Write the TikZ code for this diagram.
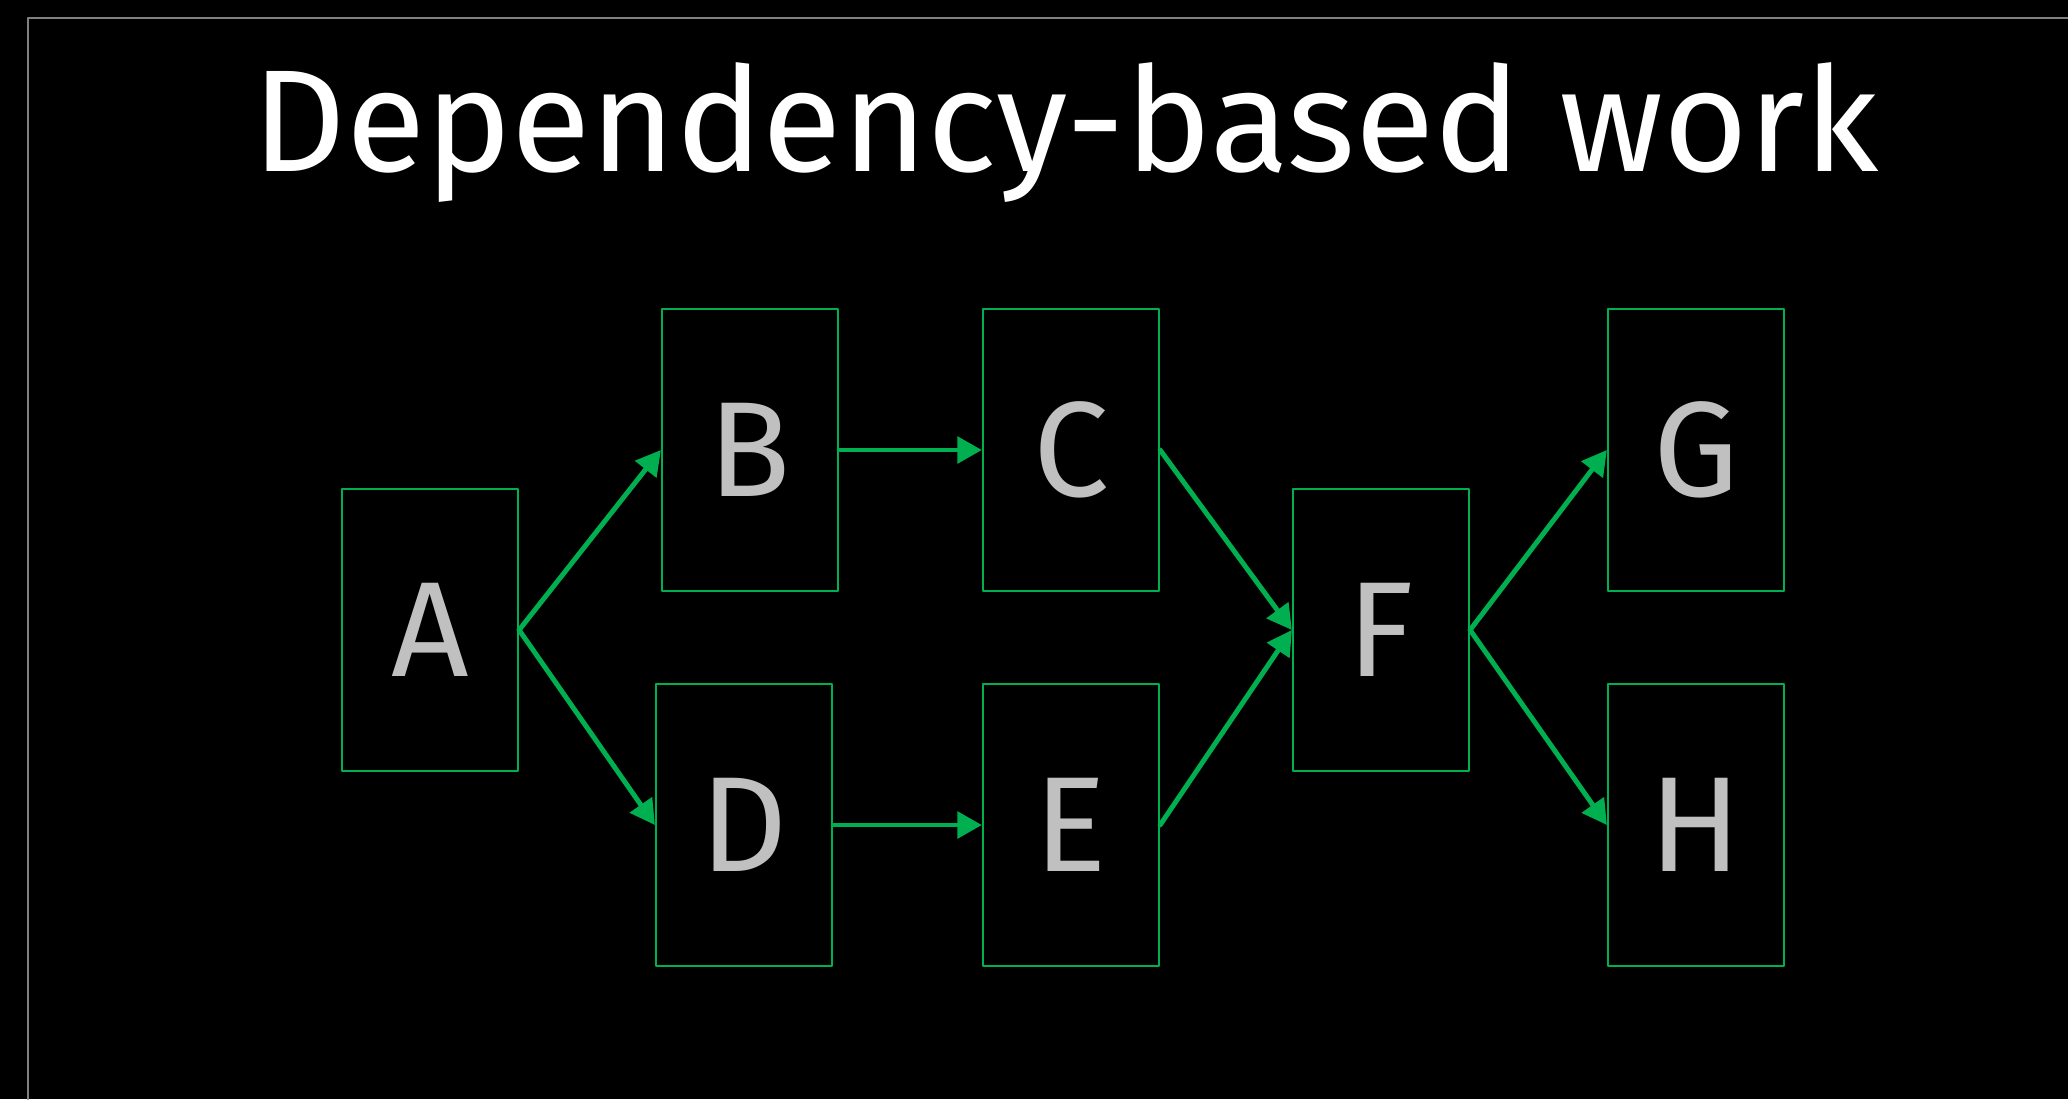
\documentclass[tikz,border=0pt]{standalone}
\usepackage{fontspec}
\setmainfont{Fira Sans}
\usetikzlibrary{arrows.meta}
\definecolor{depgreen}{HTML}{00B050}
\definecolor{lettergray}{HTML}{C0C0C0}
\definecolor{framegray}{HTML}{808080}
\begin{document}
\begin{tikzpicture}[line cap=round,line join=round,x=0.01cm,y=-0.01cm,
	task/.style={draw=depgreen, line width=0.6pt, minimum width=1.76cm, minimum height=2.82cm, inner sep=0pt, text=lettergray, font=\fontsize{38.5}{40}\selectfont},
	dep/.style={draw=depgreen, line width=1.4pt, -{Triangle[length=7pt,width=7.5pt]}}]
	% Nền
	\fill[black] (0,0) rectangle (2068,1099);
	\useasboundingbox (0,0) rectangle (2068,1099);
	\draw[framegray, line width=0.6pt] (28,1099) -- (28,18) -- (2068,18);
	% Tiêu đề
	\node[text=white, anchor=base, font=\fontsize{41.3}{46}\selectfont] (title) at (1066,171) {Dependency-based work};
	% Các khối công việc
	\foreach \n/\x/\y in {A/430/630, B/750/450, C/1071/450, D/744/825, E/1071/825, F/1381/630, G/1696/450, H/1696/825} {
		\node[task] (\n) at (\x,\y) {\n};
	}
	% Các phụ thuộc
	\draw[dep] (A.east) -- (B.west);
	\draw[dep] (A.east) -- (D.west);
	\draw[dep] (B.east) -- (C.west);
	\draw[dep] (D.east) -- (E.west);
	\draw[dep] (C.east) -- (F.west);
	\draw[dep] (E.east) -- (F.west);
	\draw[dep] (F.east) -- (G.west);
	\draw[dep] (F.east) -- (H.west);
\end{tikzpicture}
\end{document}
